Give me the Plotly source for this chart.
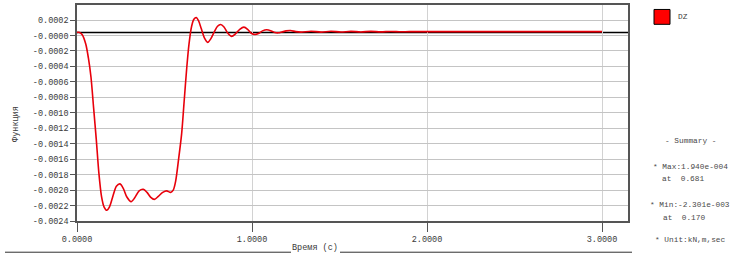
import plotly.graph_objects as go

# ---- data ----
time_s = [0.0, 0.015, 0.03, 0.05, 0.065, 0.08, 0.095, 0.11, 0.125, 0.14, 0.155, 0.17,
          0.185, 0.205, 0.225, 0.246, 0.265, 0.285, 0.309, 0.33, 0.355, 0.379, 0.40,
          0.42, 0.442, 0.465, 0.49, 0.512, 0.535, 0.55, 0.564, 0.58, 0.598, 0.612,
          0.627, 0.64, 0.655, 0.668, 0.681, 0.695, 0.71, 0.728, 0.747, 0.765, 0.785,
          0.803, 0.821, 0.84, 0.862, 0.884, 0.905, 0.93, 0.954, 0.975, 0.995, 1.017,
          1.04, 1.06, 1.084, 1.11, 1.13, 1.15, 1.17, 1.195, 1.22, 1.25, 1.28, 1.337,
          1.394, 1.451, 1.508, 1.565, 1.622, 1.679, 1.736, 1.793, 1.85, 1.9, 2.2,
          2.6, 3.0]
dz_values = [0.0, 0.0, -0.00003, -0.00015, -0.00033, -0.00058, -0.00098, -0.00138,
             -0.00182, -0.00212, -0.00226, -0.002301, -0.00226, -0.00212, -0.00199,
             -0.00196, -0.00202, -0.00213, -0.00219, -0.00214, -0.00205, -0.00203,
             -0.00207, -0.00213, -0.00216, -0.00212, -0.00207, -0.00205, -0.00207,
             -0.00204, -0.00192, -0.00165, -0.00131, -0.0009, -0.00046, -0.00015,
             0.00008, 0.00017, 0.000194, 0.00015, 0.00005, -0.00007, -0.000128,
             -0.00008, 0.00001, 0.00008, 0.000103, 0.00007, -0.00001, -0.000051,
             -0.00002, 0.00004, 0.000069, 0.00004, -0.00001, -0.000026, -0.00001,
             0.00002, 0.000035, 0.00002, 0.0, -0.000005, 0.000005, 0.00002, 0.000025,
             0.00001, 0.000004, 0.000016, 0.000004, 0.000015, 0.000005, 0.000014,
             0.000006, 0.000014, 0.000007, 0.000013, 0.000008, 0.00001, 0.00001,
             0.00001, 0.00001]
series_name = "DZ"
x_tick_vals = [0.0, 1.0, 2.0, 3.0]
x_tick_text = ["0.0000", "1.0000", "2.0000", "3.0000"]
y_tick_vals = [-0.00244, -0.00224, -0.00204, -0.00184, -0.00164, -0.00144, -0.00124,
               -0.00104, -0.00084, -0.00064, -0.00044, -0.00024, -0.00004, 0.00016]
y_tick_text = ["-0.0024", "-0.0022", "-0.0020", "-0.0018", "-0.0016", "-0.0014",
               "-0.0012", "-0.0010", "-0.0008", "-0.0006", "-0.0004", "-0.0002",
               "-0.0000", "0.0002"]
summary_lines = ["- Summary -", "* Max:1.940e-004", "at  0.681",
                 "* Min:-2.301e-003", "at  0.170", "* Unit:kN,m,sec"]

W, H = 737, 264
L, R, T, B = 77, 628, 3, 221
pw, ph = R - L, B - T

def px(x):
    return (x - L) / pw

def py(y):
    return (B - y) / ph

MONO = "Liberation Mono"
TXT = "#3a3a3a"

fig = go.Figure()
fig.add_trace(go.Scatter(x=time_s, y=dz_values, mode="lines", name=series_name,
                         line=dict(color="#e8000b", width=1.6, shape="spline", smoothing=0.8),
                         showlegend=False, hoverinfo="skip"))

shapes = [
    # zero line
    dict(type="line", xref="paper", yref="y", x0=0, x1=1, y0=0, y1=0,
         line=dict(color="#000000", width=1.5), layer="below"),
    # x-title rules
    dict(type="line", xref="paper", yref="paper", x0=px(5), x1=px(291), y0=py(252.5), y1=py(252.5),
         line=dict(color="#303030", width=1)),
    dict(type="line", xref="paper", yref="paper", x0=px(340), x1=px(632), y0=py(252.5), y1=py(252.5),
         line=dict(color="#303030", width=1)),
    # legend swatch
    dict(type="rect", xref="paper", yref="paper", x0=px(654), x1=px(670), y0=py(22.5), y1=py(7.5),
         fillcolor="#ff0000", line=dict(color="#000000", width=1)),
]

annotations = [
    dict(text="Время (с)", xref="paper", yref="paper", x=px(315), y=py(248), showarrow=False,
         xanchor="center", yanchor="middle", font=dict(family=MONO, size=8.5, color=TXT)),
    dict(text="Функция", xref="paper", yref="paper", x=px(16), y=py(123), showarrow=False,
         textangle=-90, xanchor="center", yanchor="middle", font=dict(family=MONO, size=8.5, color=TXT)),
    dict(text=series_name, xref="paper", yref="paper", x=px(676), y=py(15), showarrow=False,
         xanchor="left", yanchor="middle", font=dict(family=MONO, size=7.8, color=TXT)),
]
summary_y = [140, 167, 179, 205, 218, 240]
summary_x = [690, 690, 683, 690, 684, 690]
for t, yy, xx in zip(summary_lines, summary_y, summary_x):
    annotations.append(dict(text=t, xref="paper", yref="paper", x=px(xx), y=py(yy), showarrow=False,
                            xanchor="center", yanchor="middle",
                            font=dict(family=MONO, size=7.8, color="#4a4a4a")))

fig.update_layout(
    width=W, height=H, margin=dict(l=L, r=W - R, t=T, b=H - B),
    paper_bgcolor="white", plot_bgcolor="white",
    shapes=shapes, annotations=annotations, showlegend=False,
    xaxis=dict(range=[0, pw / 175.0], tickvals=x_tick_vals, ticktext=x_tick_text,
               showgrid=True, gridcolor="#d2d2d2", gridwidth=1, zeroline=False,
               ticks="outside", ticklen=9, tickcolor="#555555", tickwidth=1,
               showline=True, linecolor="#555555", linewidth=1.5, mirror=True,
               tickfont=dict(family=MONO, size=8.5, color=TXT)),
    yaxis=dict(range=[-0.00244, 0.000355], tickvals=y_tick_vals, ticktext=y_tick_text,
               showgrid=True, gridcolor="#c4c4c4", gridwidth=1.2, zeroline=False,
               ticks="outside", ticklen=5, tickcolor="#555555", tickwidth=1,
               showline=True, linecolor="#555555", linewidth=1.5, mirror=True,
               tickfont=dict(family=MONO, size=8.5, color=TXT)),
)

fig.write_html("out.html")
